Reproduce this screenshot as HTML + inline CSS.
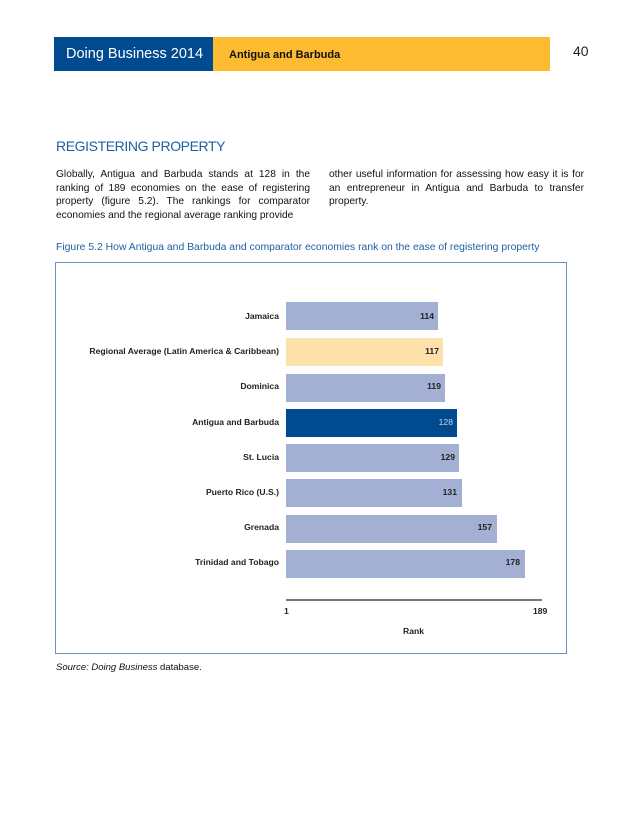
<!DOCTYPE html>
<html><head><meta charset="utf-8"><style>
body{margin:0;width:640px;height:828px;background:#fff;position:relative;font-family:"Liberation Sans",sans-serif;overflow:hidden}
.a{position:absolute}
.p{font-size:10.2px;line-height:13.7px;text-align:justify;color:#111}
.lab{position:absolute;right:361px;font-size:8.6px;font-weight:bold;color:#222;white-space:nowrap}
.bar{position:absolute;left:286px;height:28px;background:#a3b0d3}
.v{position:absolute;font-size:8.6px;font-weight:bold;color:#222;text-align:right}
</style></head><body>
<div class="a" style="left:54px;top:37px;width:159px;height:34px;background:#004b8f"></div>
<div class="a" style="left:213px;top:37px;width:337px;height:34px;background:#fcbb30"></div>
<div class="a" style="left:66px;top:46px;font-size:14.5px;color:#fff">Doing Business 2014</div>
<div class="a" style="left:229px;top:49px;font-size:11px;font-weight:bold;color:#111">Antigua and Barbuda</div>
<div class="a" style="left:573px;top:43px;font-size:14px;color:#222">40</div>
<div class="a" style="left:56px;top:138px;font-size:14px;letter-spacing:-0.4px;color:#1f5fa6">REGISTERING PROPERTY</div>
<div class="a p" style="left:56px;top:168px;width:254px">Globally, Antigua and Barbuda stands at 128 in the ranking of 189 economies on the ease of registering property (figure 5.2). The rankings for comparator economies and the regional average ranking provide</div>
<div class="a p" style="left:329px;top:168px;width:255px">other useful information for assessing how easy it is for an entrepreneur in Antigua and Barbuda to transfer property.</div>
<div class="a" style="left:56px;top:242px;font-size:10.4px;color:#1f5fa6;white-space:nowrap">Figure 5.2 How Antigua and Barbuda and comparator economies rank on the ease of registering property</div>
<div class="a" style="left:55px;top:262px;width:510px;height:390px;border:1px solid #6f8fbf"></div>

<div class="bar" style="top:302px;width:152px"></div><div class="lab" style="top:311px">Jamaica</div><div class="v" style="left:400px;width:34px;top:311px">114</div>
<div class="bar" style="top:338px;width:157px;background:#fee0aa"></div><div class="lab" style="top:346px">Regional Average (Latin America &amp; Caribbean)</div><div class="v" style="left:405px;width:34px;top:346px">117</div>
<div class="bar" style="top:374px;width:159px"></div><div class="lab" style="top:381px">Dominica</div><div class="v" style="left:407px;width:34px;top:381px">119</div>
<div class="bar" style="top:409px;width:171px;background:#004b8f"></div><div class="lab" style="top:417px">Antigua and Barbuda</div><div class="v" style="left:419px;width:34px;top:417px;color:#c9d3ea;font-weight:normal">128</div>
<div class="bar" style="top:444px;width:173px"></div><div class="lab" style="top:452px">St. Lucia</div><div class="v" style="left:421px;width:34px;top:452px">129</div>
<div class="bar" style="top:479px;width:176px"></div><div class="lab" style="top:487px">Puerto Rico (U.S.)</div><div class="v" style="left:423px;width:34px;top:487px">131</div>
<div class="bar" style="top:515px;width:211px"></div><div class="lab" style="top:522px">Grenada</div><div class="v" style="left:458px;width:34px;top:522px">157</div>
<div class="bar" style="top:550px;width:239px"></div><div class="lab" style="top:557px">Trinidad and Tobago</div><div class="v" style="left:486px;width:34px;top:557px">178</div>

<div class="a" style="left:286px;top:599px;width:256px;height:2px;background:#777"></div>
<div class="a" style="left:284px;top:606px;font-size:8.6px;font-weight:bold;color:#222">1</div>
<div class="a" style="left:533px;top:606px;font-size:8.6px;font-weight:bold;color:#222">189</div>
<div class="a" style="left:403px;top:626px;font-size:8.6px;font-weight:bold;color:#222">Rank</div>
<div class="a" style="left:56px;top:662px;font-size:9.5px;color:#111"><i>Source: Doing Business</i> database.</div>
</body></html>
